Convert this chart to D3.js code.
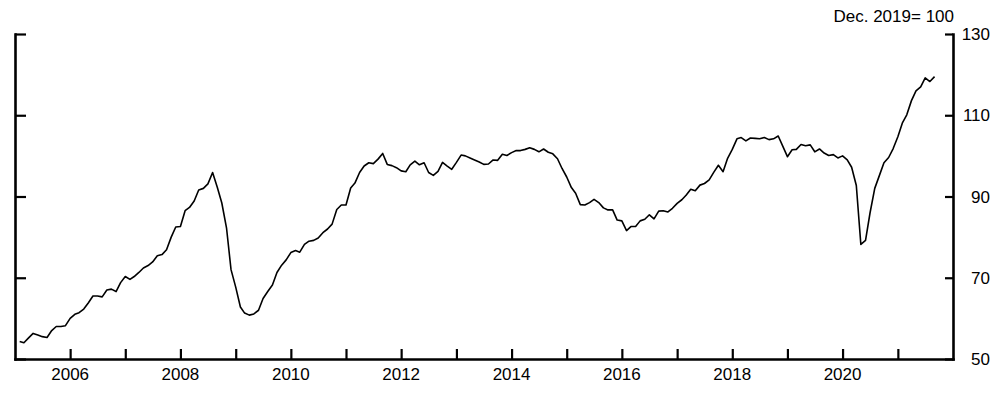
<!DOCTYPE html>
<html>
<head>
<meta charset="utf-8">
<script src="https://cdn.jsdelivr.net/npm/d3@7"></script>
<style>
  body { margin: 0; background: #fff; }
  svg { display: block; }
  text { font-family: "Liberation Sans", Arial, sans-serif; fill: #000; }
</style>
</head>
<body>
<svg id="chart"></svg>
<script>
// index, Dec. 2019 = 100, monthly from Feb 2005
const startMonth = "2005-02"
const values = [
  54.3, 54.0, 55.2, 56.3, 55.9, 55.5, 55.3, 57.0, 58.0, 58.0, 58.2,
  60.0, 61.0, 61.4, 62.3, 63.8, 65.5, 65.5, 65.3, 67.0, 67.2, 66.6, 68.8,
  70.3, 69.6, 70.3, 71.3, 72.4, 73.0, 73.9, 75.4, 75.7, 76.9, 80.0, 82.5,
  82.6, 86.5, 87.3, 88.9, 91.6, 92.0, 93.1, 95.9, 92.3, 88.4, 82.3, 72.0,
  67.7, 62.8, 61.3, 60.8, 61.1, 62.0, 64.9, 66.6, 68.2, 71.3, 73.1, 74.4,
  76.2, 76.7, 76.3, 78.2, 79.0, 79.2, 79.8, 81.1, 82.0, 83.2, 86.8, 87.9,
  87.9, 92.1, 93.3, 95.9, 97.5, 98.3, 98.1, 99.2, 100.6, 97.9, 97.6, 97.1,
  96.3, 96.1, 97.8, 98.7, 97.8, 98.3, 95.9, 95.2, 96.2, 98.4, 97.5, 96.7,
  98.4, 100.2, 100.0, 99.5, 99.0, 98.5, 97.9, 98.0, 99.0, 98.9, 100.4, 100.1,
  100.8, 101.3, 101.3, 101.6, 102.0, 101.6, 101.0, 101.7, 100.9, 100.5, 99.3, 96.9,
  94.8, 92.2, 90.8, 88.0, 87.9, 88.5, 89.3, 88.5, 87.2, 86.7, 86.7, 84.2,
  84.0, 81.6, 82.6, 82.6, 84.0, 84.4, 85.5, 84.5, 86.4, 86.5, 86.2, 87.1,
  88.3, 89.2, 90.3, 91.8, 91.4, 92.8, 93.2, 94.1, 96.0, 97.7, 96.1, 99.4,
  101.6, 104.2, 104.5, 103.7, 104.4, 104.3, 104.2, 104.5, 104.0, 104.2, 104.9, 102.4,
  99.8, 101.5, 101.6, 102.8, 102.5, 102.7, 101.0, 101.7, 100.7, 100.1, 100.3, 99.5,
  100.0, 99.0, 97.2, 92.7, 78.2, 79.2, 86.0, 92.0, 95.2, 98.3, 99.6, 101.8,
  104.7, 108.2, 110.1, 113.6, 116.0, 117.0, 119.2, 118.3, 119.5
]
const yTicks = [50, 70, 90, 110, 130]
const yearTicks = d3.range(2006, 2022)
const yearLabels = [2006, 2008, 2010, 2012, 2014, 2016, 2018, 2020]
const unitLabel = "Dec. 2019= 100"

const width = 1000
const height = 395
const margin = { left: 15, right: 953, top: 34, bottom: 359 }

const parseMonth = d3.timeParse("%Y-%m")
const start = parseMonth(startMonth)
const data = values.map((v, i) => ({ date: d3.timeMonth.offset(start, i), value: v }))

const svg = d3.select("#chart")
    .attr("width", width)
    .attr("height", height)

const x = d3.scaleTime()
    .domain([new Date(2005, 0, 1), new Date(2022, 0, 1)])
    .range([margin.left, margin.right])

const y = d3.scaleLinear()
    .domain([50, 130])
    .range([margin.bottom, margin.top])

// left axis, ticks pointing inward, no labels
svg.append("g")
    .attr("transform", `translate(${margin.left},0)`)
    .call(d3.axisRight(y).tickValues(yTicks).tickSize(11).tickSizeOuter(0).tickFormat(""))

// right axis, ticks inward, labels drawn separately
svg.append("g")
    .attr("transform", `translate(${margin.right},0)`)
    .call(d3.axisLeft(y).tickValues(yTicks).tickSize(8).tickSizeOuter(0).tickFormat(""))

// bottom axis with ticks pointing up
svg.append("g")
    .attr("transform", `translate(0,${margin.bottom})`)
    .call(d3.axisTop(x).tickValues(yearTicks.map(yr => new Date(yr, 0, 1))).tickSize(10).tickSizeOuter(0).tickFormat(""))

svg.selectAll(".domain")
    .attr("stroke", "#000")
    .attr("stroke-width", 2.6)
    .attr("stroke-linecap", "square")
svg.selectAll(".tick line")
    .attr("stroke", "#000")
    .attr("stroke-width", 2.2)

svg.append("g")
    .selectAll("text")
    .data(yTicks)
    .join("text")
    .attr("x", 990)
    .attr("y", d => y(d))
    .attr("dy", "0.36em")
    .attr("text-anchor", "end")
    .attr("font-size", 17)
    .text(d => d)

svg.append("g")
    .selectAll("text")
    .data(yearLabels)
    .join("text")
    .attr("x", d => x(new Date(d, 0, 1)))
    .attr("y", 380)
    .attr("text-anchor", "middle")
    .attr("font-size", 17)
    .text(d => d)

svg.append("text")
    .attr("x", 954)
    .attr("y", 21.5)
    .attr("text-anchor", "end")
    .attr("font-size", 17)
    .text(unitLabel)

const line = d3.line()
    .x(d => x(d.date))
    .y(d => y(d.value))

svg.append("path")
    .datum(data)
    .attr("fill", "none")
    .attr("stroke", "#000")
    .attr("stroke-width", 1.6)
    .attr("stroke-linejoin", "round")
    .attr("d", line)
</script>
</body>
</html>
